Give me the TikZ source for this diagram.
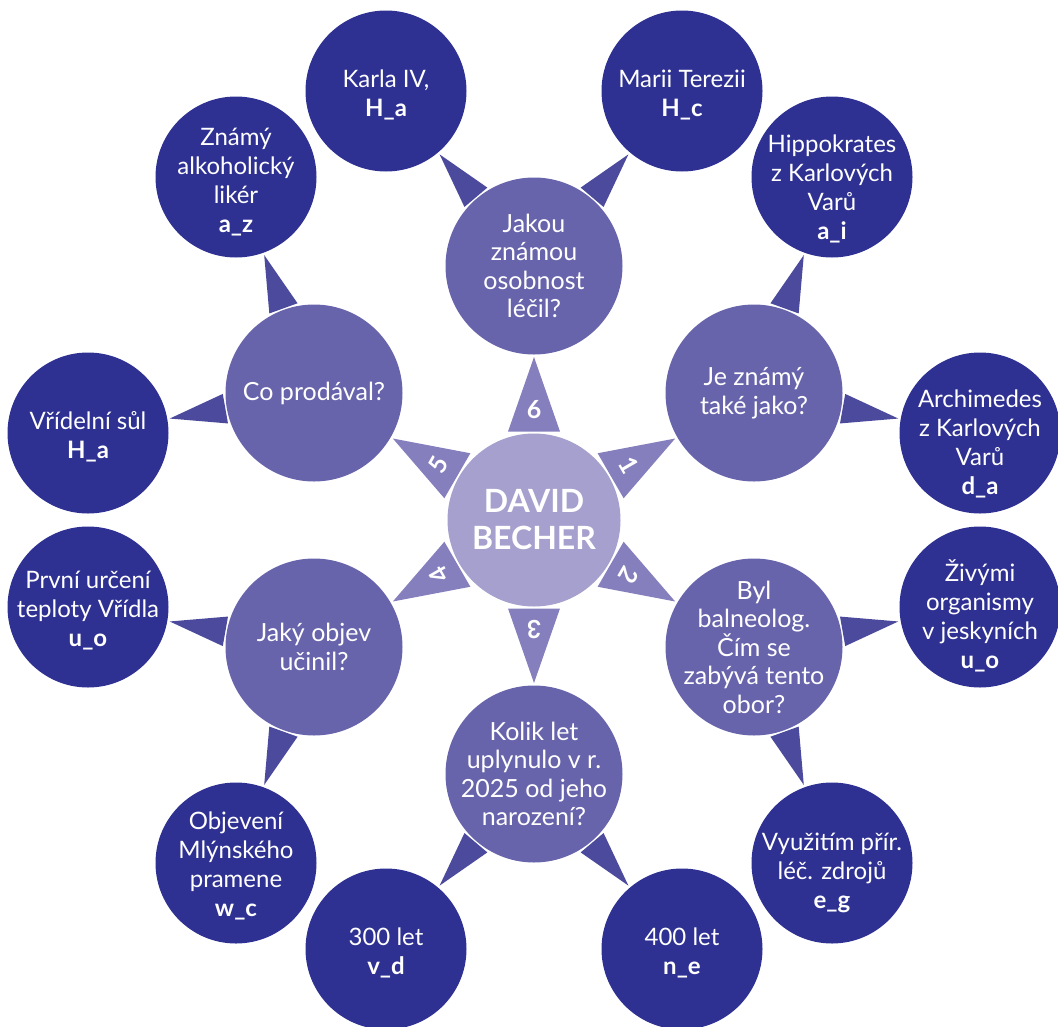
\documentclass[tikz,border=0pt]{standalone}
\usepackage{fontspec}
\setmainfont{Lato}
\usetikzlibrary{calc}
\definecolor{outerc}{HTML}{2E3192}
\definecolor{midc}{HTML}{6864AC}
\definecolor{centc}{HTML}{A5A0CD}
\definecolor{tric}{HTML}{857FBD}
\definecolor{otric}{HTML}{4B4A9C}
\pgfdeclarelayer{bg}
\pgfsetlayers{bg,main}
\newcommand\mytriA[1]{%
  \fill[tric] ($(c)!92.24pt!16.37:(#1)$) -- ($(c)!163pt!(#1)$) -- ($(c)!92.24pt!-16.37:(#1)$) -- cycle;}
\newcommand\mytriB[2]{%
  \fill[otric] ($(#1)!91.24pt!9.46:(#2)$) -- ($(#2)!83pt!(#1)$) -- ($(#1)!91.24pt!-9.46:(#2)$) -- cycle;}
\begin{document}
\begin{tikzpicture}[x=1pt,y=-1pt,
  outer/.style={circle, fill=outerc, minimum size=161pt, inner sep=0pt},
  mid/.style={circle, fill=midc, minimum size=177pt, inner sep=0pt},
  cent/.style={circle, fill=centc, minimum size=173pt, inner sep=0pt},
  otxt/.style={text=white, align=center, inner sep=0pt, font=\fontsize{24}{29}\selectfont},
  mtxt/.style={text=white, align=center, inner sep=0pt, font=\fontsize{25}{28.5}\selectfont},
  ctxt/.style={text=white, align=center, inner sep=0pt, font=\bfseries\fontsize{32}{37}\selectfont},
  num/.style={text=white, inner sep=0pt, font=\bfseries\fontsize{25}{25}\selectfont}
]
\useasboundingbox (0,0) rectangle (1058,1026);

% center
\node[cent] (c) at (534,520) {};
\node[ctxt] (ct) at (c) {DAVID\\BECHER};

% middle circles
\node[mid] (m6) at (534,266) {};
\node[mid] (m1) at (754,393) {};
\node[mid] (m2) at (754,647) {};
\node[mid] (m3) at (534,774) {};
\node[mid] (m4) at (314,647) {};
\node[mid] (m5) at (314,393) {};

\node[mtxt] (tm6) at (m6) {Jakou\\známou\\osobnost\\léčil?};
\node[mtxt] (tm1) at (m1) {Je známý\\také jako?};
\node[mtxt] (tm2) at (m2) {Byl\\balneolog.\\Čím se\\zabývá tento\\obor?};
\node[mtxt] (tm3) at (m3) {Kolik let\\uplynulo v r.\\2025 od jeho\\narození?};
\node[mtxt] (tm4) at (m4) {Jaký objev\\učinil?};
\node[mtxt] (tm5) at (m5) {Co prodával?};

% outer circles
\node[outer] (oa) at (386,91) {};
\node[outer] (ob) at (682,91) {};
\node[outer] (oc) at (832,177) {};
\node[outer] (od) at (980,433) {};
\node[outer] (oe) at (980,607) {};
\node[outer] (of) at (832,863) {};
\node[outer] (og) at (682,949) {};
\node[outer] (oh) at (386,949) {};
\node[outer] (oi) at (236,863) {};
\node[outer] (oj) at (88,607) {};
\node[outer] (ok) at (88,433) {};
\node[outer] (ol) at (236,177) {};

\node[otxt] (ta) at ([yshift=-4pt]oa) {Karla IV,\\\textbf{H\_a}};
\node[otxt] (tb) at ([yshift=-4pt]ob) {Marii Terezii\\\textbf{H\_c}};
\node[otxt] (tc) at ([yshift=-12pt]oc) {Hippokrates\\z Karlových\\Varů\\\textbf{a\_i}};
\node[otxt] (td) at ([yshift=-11pt]od) {Archimedes\\z Karlových\\Varů\\\textbf{d\_a}};
\node[otxt] (te) at ([yshift=-9pt]oe) {Živými\\organismy\\v jeskyních\\\textbf{u\_o}};
\node[otxt] (tf) at ([yshift=-10pt]of) {Využitím přír.\\léč. zdrojů\\\textbf{e\_g}};
\node[otxt] (tg) at ([yshift=-4pt]og) {400 let\\\textbf{n\_e}};
\node[otxt] (th) at ([yshift=-4pt]oh) {300 let\\\textbf{v\_d}};
\node[otxt] (ti) at ([yshift=-3pt]oi) {Objevení\\Mlýnského\\pramene\\\textbf{w\_c}};
\node[otxt] (tj) at ([yshift=-4pt]oj) {První určení\\teploty Vřídla\\\textbf{u\_o}};
\node[otxt] (tk) at ([yshift=-4pt]ok) {Vřídelní sůl\\\textbf{H\_a}};
\node[otxt] (tl) at ([yshift=-5pt]ol) {Známý\\alkoholický\\likér\\\textbf{a\_z}};

% triangles
\begin{pgfonlayer}{bg}
\mytriA{m1}\mytriA{m2}\mytriA{m3}\mytriA{m4}\mytriA{m5}\mytriA{m6}
\mytriB{m6}{oa}\mytriB{m6}{ob}
\mytriB{m1}{oc}\mytriB{m1}{od}
\mytriB{m2}{oe}\mytriB{m2}{of}
\mytriB{m3}{og}\mytriB{m3}{oh}
\mytriB{m4}{oi}\mytriB{m4}{oj}
\mytriB{m5}{ok}\mytriB{m5}{ol}
\end{pgfonlayer}

% numbers
\node[num, rotate=-60]  (n1) at ($(c)!110pt!(m1)$) {1};
\node[num, rotate=-120] (n2) at ($(c)!110pt!(m2)$) {2};
\node[num, rotate=180]  (n3) at ($(c)!110pt!(m3)$) {3};
\node[num, rotate=120]  (n4) at ($(c)!110pt!(m4)$) {4};
\node[num, rotate=60]   (n5) at ($(c)!110pt!(m5)$) {5};
\node[num]              (n6) at ($(c)!110pt!(m6)$) {6};
\end{tikzpicture}
\end{document}
